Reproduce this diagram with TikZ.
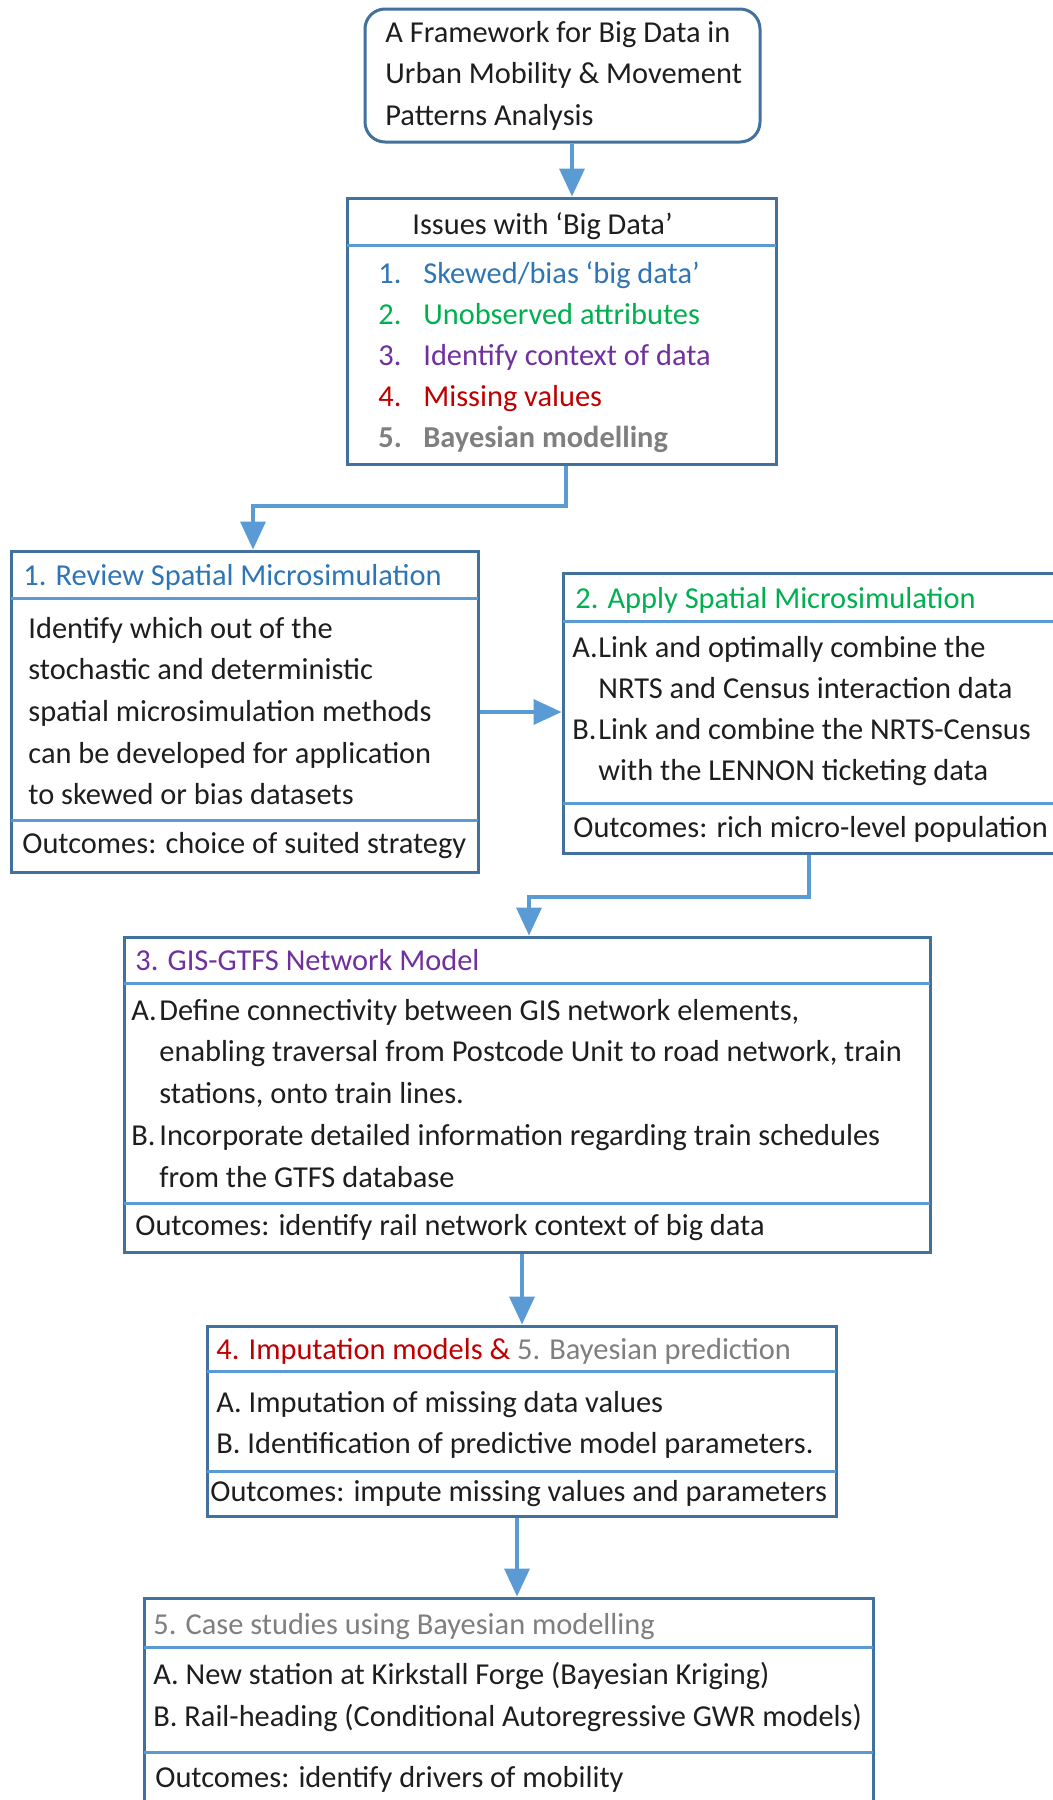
\documentclass[tikz,border=0pt]{standalone}
\usepackage{fontspec}
\setmainfont{Carlito}
\usetikzlibrary{arrows.meta,fit}

\definecolor{frame}{HTML}{41719C}
\definecolor{link}{HTML}{5B9BD5}
\definecolor{tblue}{HTML}{2E75B6}
\definecolor{tgreen}{HTML}{00B050}
\definecolor{tpurple}{HTML}{7030A0}
\definecolor{tred}{HTML}{C00000}
\definecolor{tgray}{HTML}{7F7F7F}
\definecolor{tink}{HTML}{1E1E1E}

\tikzset{
  panel/.style={draw=frame, line width=1.5pt, inner sep=0pt},
  sepline/.style={draw=link, line width=1.5pt},
  txt/.style={anchor=base west, inner sep=0pt, text=tink,
              font=\fontsize{15.2}{18}\selectfont},
  flow/.style={draw=link, line width=1.8pt,
               -{Triangle[width=12.5pt,length=14pt]}},
}

% one text node per row, rows stacked by a fixed step
\newcommand\textrows[5]{%
  \foreach \row [count=\k] in {#5}{%
    \node[txt] (#1-\k) at (#2,{#3+(\k-1)*#4}) {\row};}}
\newcommand\lbl[2]{\makebox[#1][l]{#2}}

\begin{document}
\begin{tikzpicture}[x=0.5pt,y=-0.5pt]
\clip (0,0) rectangle (1053,1800);
\fill[white] (0,0) rectangle (1053,1800);

% ---- title
\node[panel, rounded corners=10pt, fit={(365,9) (760,142)}] (title) {};
\textrows{tt}{385}{42}{41.5}{A Framework for Big Data in,
  Urban Mobility \& Movement, Patterns Analysis}

% ---- issues
\node[panel, fit={(347,198) (776,464)}] (issues) {};
\draw[sepline] (347,245) -- (776,245);
\node[txt] (iss-h) at (412,234) {Issues with ‘Big Data’};
\node[txt, text=tblue]   (iss-1) at (378,283) {\lbl{22.5pt}{1.}Skewed/bias ‘big data’};
\node[txt, text=tgreen]  (iss-2) at (378,324) {\lbl{22.5pt}{2.}Unobserved attributes};
\node[txt, text=tpurple] (iss-3) at (378,365) {\lbl{22.5pt}{3.}Identify context of data};
\node[txt, text=tred]    (iss-4) at (378,406) {\lbl{22.5pt}{4.}Missing values};
\node[txt, text=tgray, font=\fontsize{15.2}{18}\selectfont\bfseries]
                         (iss-5) at (378,447) {\lbl{22.5pt}{5.}Bayesian modelling};

% ---- 1. review
\node[panel, fit={(11,551) (478,872)}] (b1) {};
\draw[sepline] (11,598) -- (478,598);
\draw[sepline] (11,820) -- (478,820);
\node[txt, text=tblue] (b1-h) at (23,585) {1. Review Spatial Microsimulation};
\textrows{b1r}{28}{638}{41.7}{Identify which out of the,
  stochastic and deterministic,
  spatial microsimulation methods,
  can be developed for application,
  to skewed or bias datasets}
\node[txt] (b1-o) at (22,853) {Outcomes: choice of suited strategy};

% ---- 2. apply
\node[panel, fit={(563,573) (1062,853)}] (b2) {};
\draw[sepline] (563,621) -- (1062,621);
\draw[sepline] (563,803) -- (1062,803);
\node[txt, text=tgreen] (b2-h) at (575,608) {2. Apply Spatial Microsimulation};
\textrows{b2r}{572}{657}{41}{\lbl{13pt}{A.}Link and optimally combine the,
  \lbl{13pt}{}NRTS and Census interaction data,
  \lbl{13pt}{B.}Link and combine the NRTS-Census,
  \lbl{13pt}{}with the LENNON ticketing data}
\node[txt] (b2-o) at (573,837) {Outcomes: rich micro-level population};

% ---- 3. network model
\node[panel, fit={(124,937) (930,1252)}] (b3) {};
\draw[sepline] (124,983) -- (930,983);
\draw[sepline] (124,1203) -- (930,1203);
\node[txt, text=tpurple] (b3-h) at (135,970) {3. GIS-GTFS Network Model};
\textrows{b3r}{131}{1020}{41.75}{{\lbl{14pt}{A.}Define connectivity between GIS network elements,},
  {\lbl{14pt}{}enabling traversal from Postcode Unit to road network, train},
  {\lbl{14pt}{}stations, onto train lines.},
  \lbl{14pt}{B.}Incorporate detailed information regarding train schedules,
  \lbl{14pt}{}from the GTFS database}
\node[txt] (b3-o) at (135,1235) {Outcomes: identify rail network context of big data};

% ---- 4. imputation
\node[panel, fit={(207,1326) (836,1516)}] (b4) {};
\draw[sepline] (207,1371) -- (836,1371);
\draw[sepline] (207,1471) -- (836,1471);
\node[txt] (b4-h) at (216,1359)
  {\textcolor{tred}{4. Imputation models \&} \textcolor{tgray}{5. Bayesian prediction}};
\textrows{b4r}{216}{1412}{41}{A. Imputation of missing data values,
  B. Identification of predictive model parameters.}
\node[txt] (b4-o) at (210,1501) {Outcomes: impute missing values and parameters};

% ---- 5. case studies
\node[panel, fit={(144,1598) (873,1812)}] (b5) {};
\draw[sepline] (144,1647) -- (873,1647);
\draw[sepline] (144,1752) -- (873,1752);
\node[txt, text=tgray] (b5-h) at (153,1634) {5. Case studies using Bayesian modelling};
\textrows{b5r}{153}{1684}{42}{A. New station at Kirkstall Forge (Bayesian Kriging),
  B. Rail-heading (Conditional Autoregressive GWR models)}
\node[txt] (b5-o) at (155,1787) {Outcomes: identify drivers of mobility};

% ---- connectors
\coordinate (c1) at (572,0);
\draw[flow] (title.south -| c1) -- (issues.north -| c1);

\coordinate (c2a) at (566,506);
\coordinate (c2b) at (253,506);
\draw[flow] (issues.south -| c2a) -- (c2a) -- (c2b) -- (b1.north -| c2b);

\coordinate (c3) at (0,712);
\draw[flow] (b1.east |- c3) -- (b2.west |- c3);

\coordinate (c4a) at (809,897);
\coordinate (c4b) at (529,897);
\draw[flow] (b2.south -| c4a) -- (c4a) -- (c4b) -- (b3.north -| c4b);

\coordinate (c5) at (522,0);
\draw[flow] (b3.south -| c5) -- (b4.north -| c5);

\coordinate (c6) at (517,0);
\draw[flow] (b4.south -| c6) -- (b5.north -| c6);
\end{tikzpicture}
\end{document}
